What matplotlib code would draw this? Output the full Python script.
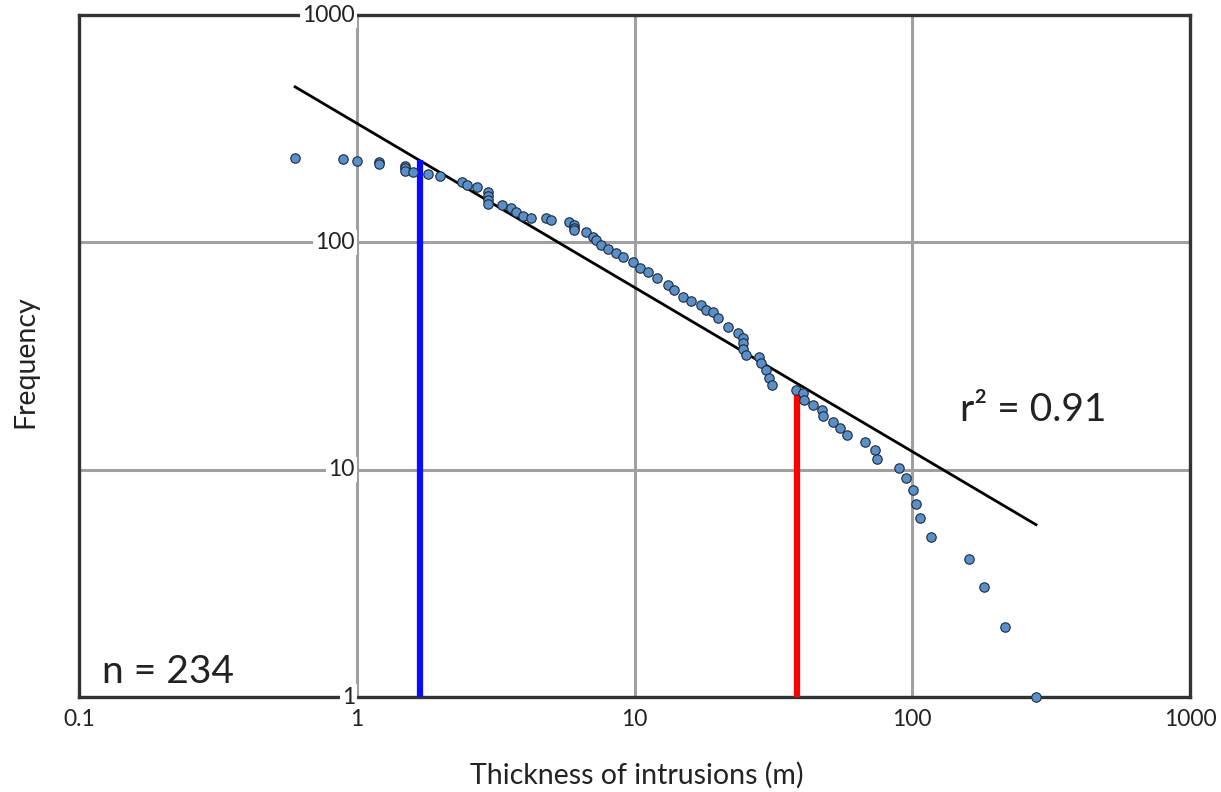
import matplotlib
matplotlib.use("Agg")
import matplotlib.pyplot as plt
import matplotlib.transforms as mtransforms
import numpy as np

plt.rcParams["font.family"] = ["Lato", "DejaVu Sans"]

# cumulative frequency of intrusion thicknesses
thickness = [0.60, 0.89, 1.00, 1.20, 1.20, 1.49, 1.49, 1.49, 1.60, 1.80, 2.00,
             2.39, 2.50, 2.72, 2.97, 2.97, 2.97, 2.97, 3.34, 3.58, 3.73, 3.96,
             4.23, 4.79, 5.00, 5.80, 6.04, 6.04, 6.04, 6.68, 7.08, 7.26, 7.57,
             8.02, 8.58, 9.09, 9.87, 10.5, 11.2, 12.1, 13.2, 13.9, 15.0, 16.0,
             17.3, 18.1, 19.1, 19.9, 21.7, 23.5, 24.5, 24.5, 24.5, 25.2, 28.0,
             28.5, 29.7, 30.4, 31.2, 38.0, 40.3, 40.6, 44.1, 47.5, 47.9, 52.0,
             55.1, 58.4, 67.8, 73.6, 74.9, 89.7, 95.1, 100.9, 103, 107, 117,
             160, 182, 215, 278]
frequency = [234, 232, 228, 226, 221, 217, 212, 207, 204, 200, 196,
             184, 179, 175, 166, 160, 154, 148, 146, 142, 136, 131,
             128, 128, 125, 123, 119, 116, 113, 111, 106, 102, 97,
             93, 90, 86, 82, 77, 74, 70, 65, 62, 57.5, 55,
             53, 50.5, 49.5, 46.5, 42.5, 40, 38, 36, 34, 32, 31.3,
             29.5, 27.5, 25.3, 23.6, 22.4, 21.7, 20.3, 19.3, 18.3, 17.2, 16.2,
             15.3, 14.2, 13.2, 12.2, 11.1, 10.2, 9.2, 8.1, 7.07, 6.13, 5.06,
             4.05, 3.05, 2.03, 1.0]

# power-law fit  F = a * t^b
fit_a = 334
fit_b = -0.722
fit_range = [0.60, 279]

# cut-off markers
blue_x, blue_top = 1.69, 230
red_x, red_top = 38.5, 23

xticks = [0.1, 1, 10, 100, 1000]
xtick_labels = ["0.1", "1", "10", "100", "1000"]
yticks = [1, 10, 100, 1000]
ytick_labels = ["1", "10", "100", "1000"]

fig = plt.figure(figsize=(12.21, 7.92), dpi=100)
ax = fig.add_axes([79 / 1221, 95 / 792, 1111 / 1221, 682 / 792])
ax.set_xscale("log")
ax.set_yscale("log")
ax.set_xlim(0.1, 1000)
ax.set_ylim(1, 1000)

ax.set_xticks(xticks)
ax.set_xticklabels(xtick_labels)
ax.set_yticks(yticks)
ax.set_yticklabels([])
ax.minorticks_off()
ax.tick_params(axis="x", length=0, pad=9, labelsize=16.5, labelcolor="#222222")
ax.tick_params(axis="y", length=0)
ax.grid(True, color="#a0a0a0", lw=2.2)
ax.set_axisbelow(True)
for s in ax.spines.values():
    s.set_color("#333333")
    s.set_linewidth(2.4)

# y labels sit on the x = 1 gridline
trans = mtransforms.blended_transform_factory(ax.transData, ax.transData)
for y, lab in zip(yticks, ytick_labels):
    ax.text(0.985, y, lab, transform=trans, ha="right", va="center",
            fontsize=16.5, color="#222222", clip_on=False, zorder=6,
            bbox=dict(facecolor="white", edgecolor="none", pad=1.5))

xf = np.array(fit_range)
ax.plot(xf, fit_a * xf ** fit_b, color="black", lw=2.0, zorder=3)

ax.vlines(blue_x, 1, blue_top, color="#0a0aff", lw=4.5, zorder=3)
ax.vlines(red_x, 1, red_top, color="#ff0000", lw=4.5, zorder=3)

ax.scatter(thickness, frequency, s=46, facecolor="#5b8fc8",
           edgecolor="#1c2a3c", linewidth=0.8, zorder=4, clip_on=False)

ax.text(23 / 1111, 7 / 682, "n = 234", transform=ax.transAxes,
        fontsize=28, color="#222222", ha="left", va="bottom")
ax.text(881 / 1111, 287 / 682, "r² = 0.91", transform=ax.transAxes,
        fontsize=28, color="#222222", ha="left", va="center")

fig.text(25 / 1221, 1 - 362 / 792, "Frequency", rotation=90, ha="center",
         va="center", fontsize=20.5, color="#222222")
fig.text(637 / 1221, 1 - 775 / 792, "Thickness of intrusions (m)",
         ha="center", va="center", fontsize=20.5, color="#222222")

fig.savefig("out.png", dpi=100)
